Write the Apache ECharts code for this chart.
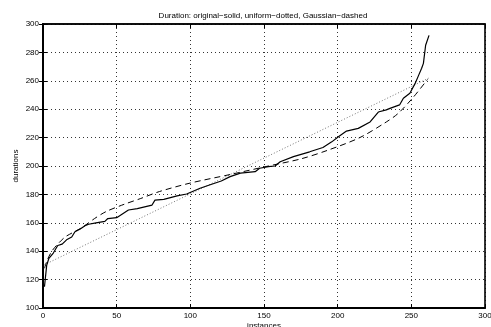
<!DOCTYPE html>
<html>
<head>
<meta charset="utf-8">
<script src="https://cdn.jsdelivr.net/npm/echarts@6/dist/echarts.min.js"></script>
<style>
  html, body { margin: 0; padding: 0; background: #fff; }
  #chart { width: 491px; height: 327px; }
</style>
</head>
<body>
<div id="chart"></div>
<script>
// values
const xTicks = [0, 50, 100, 150, 200, 250, 300];
const yTicks = [100, 120, 140, 160, 180, 200, 220, 240, 260, 280, 300];

// original (solid)
const solidX = [1, 2, 2.5, 4, 7, 10, 13, 16, 19.5, 21.7, 25, 28.5, 31, 36, 42, 44, 50, 58, 64, 74, 76, 82, 91, 97.5, 106.6, 113, 121, 127, 134, 144, 147, 153, 157.5, 161, 170, 181, 190, 196, 200.5, 206, 214, 222, 227.6, 233, 235.5, 242, 244.6, 249, 252.5, 255, 257, 258.2, 259.7, 262];
const solidY = [115, 116, 130, 135, 138.7, 144, 145, 148, 150, 153.7, 155.4, 158, 159, 160, 161, 163, 163.6, 169, 170, 172.5, 176, 176.5, 179, 180.3, 184.3, 186.6, 189.4, 192.5, 195, 196, 198.4, 199.5, 200, 203, 206.6, 210, 213, 217, 220.6, 224.6, 226.5, 231, 238, 239.5, 240.6, 243, 247.7, 251.2, 258, 264, 268.8, 272.3, 285, 292];

// uniform (dotted)
const dottedX = [1, 262];
const dottedY = [130.5, 262];

// Gaussian (dashed)
const dashedX = [1, 3, 6, 10, 15, 20, 27, 35, 43, 55, 66, 79, 100, 127, 153, 175, 193, 215, 233, 241, 251, 261];
const dashedY = [128, 134, 140, 145, 150, 153, 157, 163, 168, 173, 177, 182, 188, 194, 200, 205, 211, 220, 231, 237, 248, 261];

const pairs = (xs, ys) => xs.map((x, i) => [x, ys[i]]);

const chart = echarts.init(document.getElementById('chart'), null, { renderer: 'canvas' });
const font = 'Liberation Sans, Arial, sans-serif';

const gridLine = { show: true, lineStyle: { color: '#000', width: 0.8, type: [1, 3] } };

chart.setOption({
  animation: false,
  backgroundColor: '#fff',
  title: {
    text: 'Duration: original\u2212solid, uniform\u2212dotted, Gaussian\u2212dashed',
    left: 258,
    top: 7,
    textAlign: 'center',
    textStyle: { fontFamily: font, fontSize: 8, fontWeight: 'normal', color: '#000' }
  },
  grid: {
    left: 43, right: 6, top: 24, bottom: 19,
    outerBoundsMode: 'none',
    show: true, borderColor: '#000', borderWidth: 1.6, backgroundColor: 'transparent'
  },
  xAxis: [{
    type: 'value', min: 0, max: 300, interval: 50,
    name: 'instances', nameLocation: 'middle', nameGap: 14, nameMoveOverlap: false,
    nameTextStyle: { fontFamily: font, fontSize: 8, color: '#000', verticalAlign: 'top' },
    axisLine: { show: true, lineStyle: { color: '#000', width: 2 } },
    axisTick: { show: true, inside: true, length: 4, lineStyle: { color: '#000' } },
    axisLabel: { fontFamily: font, fontSize: 8, color: '#000', margin: 4, showMaxLabel: true },
    splitLine: gridLine
  }, {
    type: 'value', min: 0, max: 300, interval: 50, position: 'top',
    axisLine: { show: true, lineStyle: { color: '#000', width: 1.6 } },
    axisTick: { show: true, inside: true, length: 4, lineStyle: { color: '#000' } },
    axisLabel: { show: false }, splitLine: { show: false }
  }],
  yAxis: [{
    type: 'value', min: 100, max: 300, interval: 20,
    name: 'durations', nameLocation: 'middle', nameGap: 23, nameMoveOverlap: false,
    nameTextStyle: { fontFamily: font, fontSize: 8, color: '#000' },
    axisLine: { show: true, lineStyle: { color: '#000', width: 2 } },
    axisTick: { show: true, inside: true, length: 4, lineStyle: { color: '#000' } },
    axisLabel: { fontFamily: font, fontSize: 8, color: '#000', margin: 4 },
    splitLine: gridLine
  }, {
    type: 'value', min: 100, max: 300, interval: 20, position: 'right',
    axisLine: { show: true, lineStyle: { color: '#000', width: 1.6 } },
    axisTick: { show: true, inside: true, length: 4, lineStyle: { color: '#000' } },
    axisLabel: { show: false }, splitLine: { show: false }
  }],
  series: [
    {
      name: 'uniform', type: 'line', symbol: 'none',
      lineStyle: { color: '#777', width: 1, type: [1, 2] },
      data: pairs(dottedX, dottedY)
    },
    {
      name: 'Gaussian', type: 'line', symbol: 'none', smooth: 0.3,
      lineStyle: { color: '#000', width: 1, type: [6, 4] },
      data: pairs(dashedX, dashedY)
    },
    {
      name: 'original', type: 'line', symbol: 'none',
      lineStyle: { color: '#000', width: 1.2 },
      data: pairs(solidX, solidY)
    }
  ]
});
</script>
</body>
</html>
